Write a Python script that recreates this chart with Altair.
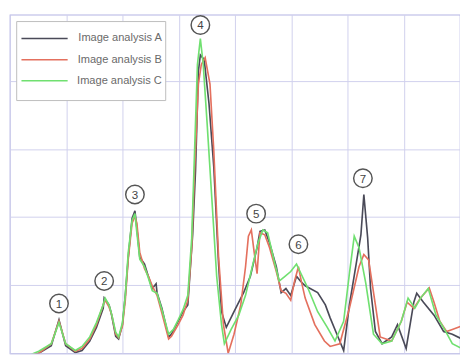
import altair as alt
import pandas as pd

# Series A (dark line)
a_x = [3.42, 5.13, 7.35, 8.72, 9.91, 11.62, 12.82, 14.19, 15.38, 16.58, 16.75, 17.61, 17.95, 18.80, 19.32,
       20.0, 20.51, 21.03, 21.71, 22.22, 22.56, 23.08, 23.93, 24.44, 25.30, 25.98, 26.15, 27.01, 28.21, 28.72,
       29.91, 30.77, 31.62, 32.48, 32.99, 33.50, 33.85, 34.53, 35.38, 36.24, 37.09, 37.61, 38.46, 39.83, 41.54,
       42.74, 43.93, 44.44, 45.30, 46.15, 47.35, 48.21, 49.06, 49.91, 50.94, 51.62, 52.48, 54.70, 56.07, 56.92,
       58.12, 59.32, 60.34, 61.54, 62.39, 62.91, 63.59, 64.10, 64.96, 66.15, 67.86, 68.89, 70.43, 71.79, 72.31,
       73.50, 75.38, 77.09, 78.63, 80.34]
a_y = [-0.05, 0.0, 0.11, 0.49, 0.11, 0.01, 0.04, 0.18, 0.38, 0.66, 0.81, 0.71, 0.61, 0.25, 0.21,
       0.42, 0.85, 1.41, 1.98, 2.09, 1.84, 1.41, 1.31, 1.17, 0.95, 1.02, 0.89, 0.66, 0.24, 0.28,
       0.47, 0.61, 0.71, 1.74, 2.68, 4.14, 4.38, 4.31, 3.67, 2.73, 1.31, 0.61, 0.38, 0.61, 0.89,
       1.13, 1.55, 1.79, 1.81, 1.62, 1.27, 0.89, 0.95, 0.85, 1.13, 1.06, 0.99, 0.89, 0.71, 0.52,
       0.28, 0.04, 0.71, 1.31, 1.74, 2.33, 1.69, 0.95, 0.32, 0.14, 0.24, 0.42, 0.07, 0.75, 0.88,
       0.75, 0.56, 0.32, 0.28, 0.21]

# Series B (red line)
b_x = [3.42, 5.13, 7.35, 8.72, 9.91, 11.62, 12.82, 14.19, 15.38, 16.58, 16.92, 17.61, 18.12, 18.80, 19.32,
       20.0, 20.51, 21.03, 21.71, 22.22, 22.56, 23.08, 23.93, 24.62, 25.30, 26.15, 27.01, 28.21, 28.72, 29.91,
       30.77, 31.62, 32.31, 32.82, 33.50, 34.02, 34.70, 35.56, 36.24, 37.09, 37.95, 38.80, 39.83, 41.03, 41.88,
       42.39, 42.91, 43.42, 43.93, 44.44, 45.30, 46.15, 47.35, 48.21, 49.06, 49.91, 50.60, 51.28, 51.79, 52.48,
       54.19, 55.90, 56.92, 58.63, 60.34, 62.05, 62.91, 63.76, 64.96, 65.81, 67.86, 69.57, 70.60, 71.79, 72.99,
       74.53, 75.38, 76.41, 77.61, 78.63, 80.34]
b_y = [-0.03, 0.0, 0.14, 0.47, 0.14, 0.03, 0.07, 0.21, 0.42, 0.71, 0.78, 0.68, 0.56, 0.28, 0.23,
       0.40, 0.78, 1.38, 1.91, 2.01, 1.91, 1.48, 1.24, 1.13, 0.99, 0.85, 0.59, 0.21, 0.25, 0.42,
       0.56, 0.78, 1.55, 2.68, 3.95, 4.24, 4.34, 3.95, 2.97, 1.41, 0.42, 0.0, 0.28, 0.71, 1.27,
       1.72, 1.81, 1.48, 1.17, 1.77, 1.74, 1.55, 1.20, 0.92, 0.88, 0.78, 1.06, 1.27, 1.06, 0.81,
       0.42, 0.18, 0.10, 0.14, 0.66, 1.27, 1.45, 1.37, 0.71, 0.24, 0.18, 0.47, 0.75, 0.66, 0.81,
       0.96, 0.75, 0.47, 0.32, 0.35, 0.40]

# Series C (green line)
c_x = [3.42, 5.13, 7.35, 8.72, 9.91, 11.62, 12.82, 14.19, 15.38, 16.58, 16.92, 17.61, 18.12, 18.80, 19.32,
       20.0, 20.51, 21.03, 21.71, 22.22, 22.56, 23.08, 23.93, 24.62, 25.30, 26.15, 27.01, 28.21, 29.06, 29.91,
       30.77, 31.62, 32.31, 32.82, 33.33, 33.85, 34.36, 35.04, 35.90, 36.75, 37.61, 38.12, 39.32, 40.68, 41.88,
       43.08, 44.10, 44.96, 45.81, 47.01, 47.86, 48.89, 49.91, 50.94, 51.79, 52.99, 54.70, 56.41, 57.78, 59.32,
       60.34, 61.20, 62.05, 63.25, 64.62, 66.15, 67.86, 69.57, 70.77, 71.97, 72.99, 74.36, 75.73, 77.26, 78.63,
       80.34]
c_y = [-0.03, 0.03, 0.14, 0.45, 0.14, 0.04, 0.10, 0.24, 0.45, 0.71, 0.81, 0.71, 0.56, 0.31, 0.24,
       0.45, 0.85, 1.48, 1.95, 2.05, 1.77, 1.38, 1.27, 1.10, 0.92, 0.88, 0.64, 0.28, 0.35, 0.49,
       0.64, 0.85, 1.69, 2.97, 4.24, 4.62, 4.24, 3.39, 2.26, 1.13, 0.42, 0.14, 0.35, 0.56, 0.85,
       1.27, 1.62, 1.81, 1.77, 1.34, 1.06, 1.13, 1.20, 1.31, 1.16, 0.95, 0.61, 0.38, 0.18, 0.47,
       1.17, 1.72, 1.55, 1.03, 0.28, 0.14, 0.18, 0.47, 0.81, 0.66, 0.81, 0.95, 0.56, 0.35, 0.14,
       0.07]

series_names = ["Image analysis A", "Image analysis B", "Image analysis C"]
series_colors = ["#4a4a58", "#e4705e", "#70e070"]

# Peak annotations (circled numbers)
peak_labels = ["1", "2", "3", "4", "5", "6", "7"]
peak_x = [8.72, 16.75, 22.22, 33.85, 43.76, 51.28, 62.74]
peak_y = [0.73, 1.06, 2.33, 4.82, 2.05, 1.60, 2.57]

# Legend box (in data units)
legend_box_x = [1.20, 27.69]
legend_box_y = [3.71, 4.87]
legend_row_y = [4.62, 4.31, 4.00]
legend_line_x = [2.05, 10.26]
legend_text_x = 27.0

rows = []
for name, xs, ys in zip(series_names, [a_x, b_x, c_x], [a_y, b_y, c_y]):
    for i, (x, y) in enumerate(zip(xs, ys)):
        rows.append({"series": name, "x": x, "y": y, "i": i})
df = pd.DataFrame(rows)

peaks = pd.DataFrame({"label": peak_labels, "x": peak_x, "y": peak_y})

leg = pd.DataFrame({
    "series": series_names,
    "x1": [legend_line_x[0]] * 3,
    "x2": [legend_line_x[1]] * 3,
    "tx": [legend_text_x] * 3,
    "y": legend_row_y,
})
box = pd.DataFrame({"x1": [legend_box_x[0]], "x2": [legend_box_x[1]],
                    "y1": [legend_box_y[0]], "y2": [legend_box_y[1]]})

xscale = alt.Scale(domain=[0, 80], nice=False, zero=False)
yscale = alt.Scale(domain=[0, 4.97], nice=False, zero=False)
color = alt.Scale(domain=series_names, range=series_colors)

grid_color = "#cfcfec"
xaxis = alt.Axis(values=list(range(0, 81, 10)), labels=False, ticks=False, domain=False, title=None,
                 grid=True, gridColor=grid_color, gridWidth=1)
yaxis = alt.Axis(values=[0, 1, 2, 3, 4, 5], labels=False, ticks=False, domain=False, title=None,
                 grid=True, gridColor=grid_color, gridWidth=1)

lines = alt.Chart(df).mark_line(strokeWidth=1.7, clip=True).encode(
    x=alt.X("x:Q", scale=xscale, axis=xaxis),
    y=alt.Y("y:Q", scale=yscale, axis=yaxis),
    color=alt.Color("series:N", scale=color, legend=None),
    order="i:Q",
)

legend_box = alt.Chart(box).mark_rect(fill="white", stroke="#bbbbbb", strokeWidth=1).encode(
    x="x1:Q", x2="x2:Q", y="y1:Q", y2="y2:Q")
legend_lines = alt.Chart(leg).mark_rule(strokeWidth=1.6).encode(
    x="x1:Q", x2="x2:Q", y="y:Q",
    color=alt.Color("series:N", scale=color, legend=None))
legend_text = alt.Chart(leg).mark_text(align="right", baseline="middle", fontSize=11.5,
                                       font="Liberation Sans", color="#6a6a6a").encode(
    x="tx:Q", y="y:Q", text="series:N")

circles = alt.Chart(peaks).mark_point(shape="circle", size=370, filled=False, fill="white",
                                      fillOpacity=1, stroke="#555555", strokeWidth=1.5, opacity=1).encode(
    x="x:Q", y="y:Q")
digits = alt.Chart(peaks).mark_text(fontSize=12, font="Liberation Sans", color="#444444",
                                    baseline="middle", align="center", dy=0.5).encode(
    x="x:Q", y="y:Q", text="label:N")

chart = alt.layer(lines, legend_box, legend_lines, legend_text, circles, digits).properties(
    width=468, height=352,
    autosize=alt.AutoSizeParams(type="none"),
    padding={"left": 2, "top": 0, "right": 0, "bottom": 0},
    background="white",
).configure_view(stroke="#b4b4e4", strokeWidth=1.2)

chart.save("out.html", embed_options={"renderer": "svg", "actions": False})
